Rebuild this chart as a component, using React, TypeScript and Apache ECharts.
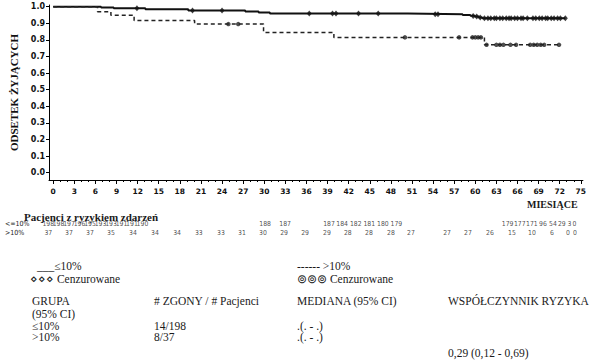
import { useEffect, useRef } from "react";
import * as echarts from "echarts";

// ---- data ----
const xTickLabels = [0, 3, 6, 9, 12, 15, 18, 21, 24, 27, 30, 33, 36, 39, 42, 45, 48, 51, 54, 57, 60, 63, 66, 69, 72, 75];
const yTickLabels = [0, 0.1, 0.2, 0.3, 0.4, 0.5, 0.6, 0.7, 0.8, 0.9, 1.0];

// Kaplan-Meier steps [month, survival]
const lowRiskSteps: [number, number][] = [
  [0, 1], [6.8, 0.995], [8.6, 0.99], [13.1, 0.984], [19.2, 0.977], [27.3, 0.971], [29.2, 0.965],
  [30.8, 0.959], [50.4, 0.955], [58.2, 0.95], [59.3, 0.945], [59.9, 0.94], [60.5, 0.935],
  [61.0, 0.93], [72.8, 0.93],
];
const highRiskSteps: [number, number][] = [
  [0, 1], [6.3, 0.97], [8.2, 0.949], [11.5, 0.917], [20.1, 0.895], [29.9, 0.845],
  [39.9, 0.815], [61.3, 0.77], [72.2, 0.77],
];

// censored observations [month, survival]
const lowRiskCensored: [number, number][] = [
  [11.9, 0.99], [19.8, 0.977], [24.0, 0.977], [36.4, 0.959], [39.7, 0.959], [40.2, 0.959],
  [43.4, 0.959], [46.2, 0.959], [54.3, 0.955], [54.7, 0.955], [59.7, 0.943], [60.2, 0.94],
  [60.7, 0.935], [61.3, 0.93], [61.8, 0.93], [62.2, 0.93], [62.7, 0.93], [63.0, 0.93],
  [63.5, 0.93], [63.9, 0.93], [64.4, 0.93], [64.8, 0.93], [65.1, 0.93], [65.6, 0.93],
  [66.0, 0.93], [66.5, 0.93], [66.8, 0.93], [67.4, 0.93], [68.2, 0.93], [68.6, 0.93],
  [69.1, 0.93], [69.5, 0.93], [70.0, 0.93], [70.3, 0.93], [70.8, 0.93], [71.2, 0.93],
  [71.7, 0.93], [72.1, 0.93], [72.8, 0.93],
];
const highRiskCensored: [number, number][] = [
  [24.9, 0.895], [26.3, 0.895], [50.0, 0.815], [57.7, 0.815], [59.6, 0.815], [60.0, 0.815],
  [60.4, 0.815], [60.8, 0.815], [61.6, 0.77], [63.0, 0.77], [63.5, 0.77], [64.0, 0.77],
  [65.0, 0.77], [65.8, 0.77], [67.8, 0.77], [68.3, 0.77], [68.8, 0.77], [69.3, 0.77],
  [69.8, 0.77], [71.9, 0.77],
];

// numbers at risk and where each column is printed (months on the time axis)
const riskRowNames = ["<=10%", ">10%"];
const lowRiskAtRisk = [198, 198, 197, 196, 195, 193, 193, 191, 191, 190, 188, 187, 187, 184, 182, 181, 180, 179, 179, 177, 171, 96, 54, 29, 3, 0];
const lowRiskAtRiskPos = [0, 1.43, 2.9, 4.38, 5.85, 7.32, 8.79, 10.26, 11.73, 13.2, 30.4, 33.2, 39.35, 41.2, 43.1, 45.0, 46.9, 48.8, 64.4, 66.1, 67.8, 69.35, 70.75, 72.0, 73.07, 73.77];
const highRiskAtRisk = [37, 37, 37, 35, 34, 34, 34, 33, 33, 31, 30, 29, 29, 29, 28, 28, 28, 27, 27, 27, 26, 15, 10, 6, 0, 0];
const highRiskAtRiskPos = [0, 2.9, 5.85, 8.79, 11.87, 14.96, 18.05, 21.1, 24.2, 27.16, 30.1, 33.05, 36.0, 39.07, 42.0, 44.96, 48.04, 50.85, 55.9, 58.84, 61.92, 65.0, 67.8, 70.6, 72.86, 73.84];

const minorTicks: number[] = [];
for (let m = 0; m <= 75; m++) if (m % 3 !== 0) minorTicks.push(m);

const SERIF = "'Liberation Serif', 'Times New Roman', serif";
const NARROW = "'Liberation Sans Narrow', 'DejaVu Sans Condensed', 'Liberation Sans', sans-serif";

export default function App() {
  const ref = useRef<HTMLDivElement>(null);
  useEffect(() => {
    if (!ref.current) return;
    const chart = echarts.init(ref.current, undefined, { renderer: "svg" });
    const X_MIN = -0.6, X_MAX = 75.3;
    const gridLeft = 44, gridWidth = 541.4;
    const txt = (text: string, x: number, y: number, extra: any = {}) => ({
      type: "text",
      silent: true,
      style: {
        text, x, y, fill: "#1a1a1a", fontFamily: SERIF, fontSize: 11.5,
        verticalAlign: "middle", align: "left", ...extra,
      },
    });
    const riskLabel = {
      show: true, position: "inside", formatter: (p: any) => String(p.value[2]),
      fontSize: 6.8, fontFamily: NARROW, color: "#222",
    };
    chart.setOption({
      animation: false,
      backgroundColor: "#fff",
      grid: [
        { left: gridLeft, width: gridWidth, top: 5, height: 175, containLabel: false },
        { left: gridLeft, width: gridWidth, top: 219.7, height: 17.3, containLabel: false },
      ],
      xAxis: [
        {
          type: "value", gridIndex: 0, min: X_MIN, max: X_MAX,
          axisLine: { onZero: false, lineStyle: { color: "#000", width: 1 } },
          axisTick: { customValues: xTickLabels, length: 4, lineStyle: { color: "#000" } },
          axisLabel: {
            customValues: xTickLabels, fontSize: 7.5, fontWeight: "bold", color: "#111",
            fontFamily: "'DejaVu Sans', sans-serif", margin: 7.5,
          },
          splitLine: { show: false },
        },
        {
          type: "value", gridIndex: 0, min: X_MIN, max: X_MAX, position: "bottom",
          axisLine: { show: false, onZero: false },
          axisTick: { customValues: minorTicks, length: 2, lineStyle: { color: "#000" } },
          axisLabel: { show: false },
          splitLine: { show: false },
        },
        { type: "value", gridIndex: 1, min: X_MIN, max: X_MAX, show: false },
      ],
      yAxis: [
        {
          type: "value", gridIndex: 0, min: -0.044, max: 1.01,
          axisLine: { show: true, onZero: false, lineStyle: { color: "#000", width: 1 } },
          axisTick: { show: true, customValues: yTickLabels, length: 3, lineStyle: { color: "#000" } },
          axisLabel: {
            customValues: yTickLabels, formatter: (v: number) => v.toFixed(1), fontSize: 8,
            fontWeight: "bold", color: "#111", fontFamily: "'DejaVu Sans', sans-serif", margin: 4,
          },
          splitLine: { show: false },
          name: "ODSETEK ŻYJĄCYCH", nameLocation: "middle", nameRotate: 90, nameGap: 30,
          nameTextStyle: { fontFamily: SERIF, fontWeight: "bold", fontSize: 11, color: "#111" },
        },
        {
          type: "category", gridIndex: 1, data: riskRowNames, inverse: true,
          axisLine: { show: false }, axisTick: { show: false }, splitLine: { show: false },
          axisLabel: { interval: 0, align: "left", margin: 39, fontSize: 7, fontFamily: NARROW, color: "#222" },
        },
      ],
      series: [
        {
          type: "line", step: "end", data: lowRiskSteps, showSymbol: false, silent: true,
          lineStyle: { color: "#111", width: 2 }, xAxisIndex: 0, yAxisIndex: 0,
        },
        {
          type: "line", step: "end", data: highRiskSteps, showSymbol: false, silent: true,
          lineStyle: { color: "#222", width: 1.5, type: [4, 3] }, xAxisIndex: 0, yAxisIndex: 0,
        },
        {
          type: "scatter", data: lowRiskCensored, symbol: "diamond", symbolSize: [5, 6],
          itemStyle: { color: "#111" }, silent: true, xAxisIndex: 0, yAxisIndex: 0,
        },
        {
          type: "scatter", data: highRiskCensored, symbol: "circle", symbolSize: 4.5,
          itemStyle: { color: "#222" }, silent: true, xAxisIndex: 0, yAxisIndex: 0,
        },
        {
          type: "scatter", xAxisIndex: 2, yAxisIndex: 1, silent: true, clip: false,
          data: lowRiskAtRisk.map((n, i) => [lowRiskAtRiskPos[i], riskRowNames[0], n]),
          symbolSize: 1, itemStyle: { color: "transparent" }, label: riskLabel,
        },
        {
          type: "scatter", xAxisIndex: 2, yAxisIndex: 1, silent: true, clip: false,
          data: highRiskAtRisk.map((n, i) => [highRiskAtRiskPos[i], riskRowNames[1], n]),
          symbolSize: 1, itemStyle: { color: "transparent" }, label: riskLabel,
        },
      ],
      graphic: [
        txt("MIESIĄCE", 527, 204, { fontWeight: "bold", fontSize: 10 }),
        txt("Pacjenci z ryzykiem zdarzeń", 24, 217, { fontWeight: "bold", fontSize: 11 }),
        txt("___≤10%", 37, 266),
        txt("⋄⋄⋄ Cenzurowane", 30, 279),
        txt("------ >10%", 297, 266),
        txt("⊚⊚⊚ Cenzurowane", 297, 279),
        txt("GRUPA", 32, 301),
        txt("# ZGONY / # Pacjenci", 154, 301),
        txt("MEDIANA (95% CI)", 297, 301),
        txt("WSPÓŁCZYNNIK RYZYKA", 448, 301),
        txt("(95% CI)", 32, 314),
        txt("≤10%", 32, 326),
        txt("14/198", 154, 326),
        txt(".(. - .)", 297, 326),
        txt(">10%", 32, 337),
        txt("8/37", 154, 337),
        txt(".(. - .)", 297, 337),
        txt("0,29 (0,12 - 0,69)", 448, 353),
      ],
    });
    return () => chart.dispose();
  }, []);
  return <div ref={ref} style={{ width: 589, height: 360, position: "absolute", left: 0, top: 0 }} />;
}
